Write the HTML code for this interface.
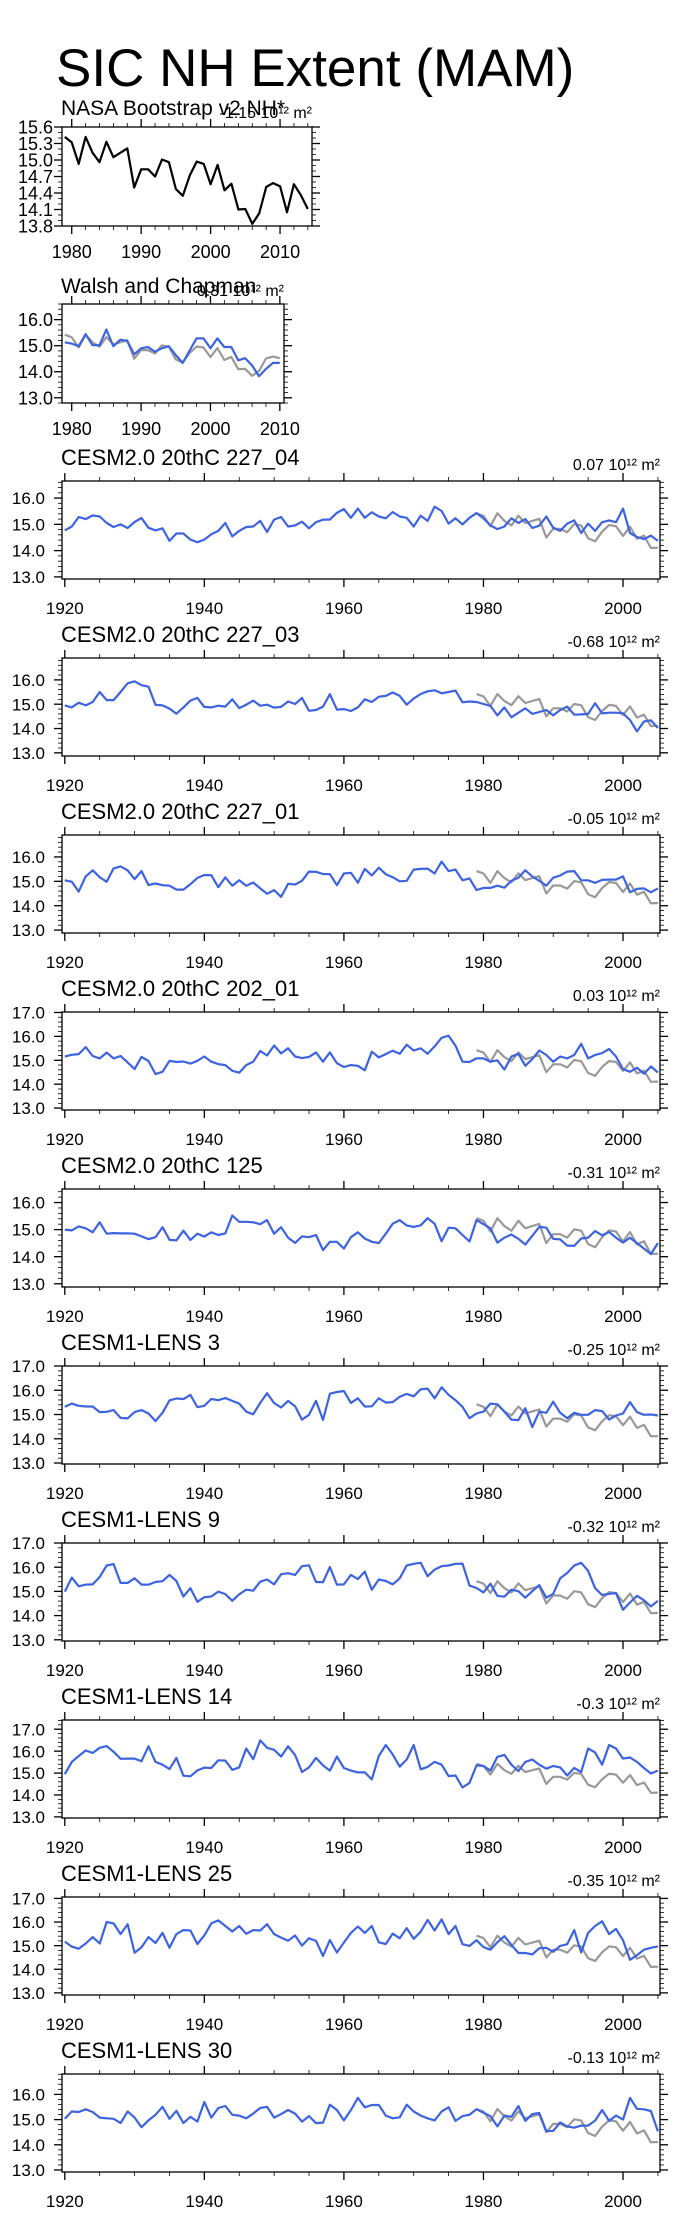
<!DOCTYPE html>
<html><head><meta charset="utf-8"><title>SIC NH Extent (MAM)</title>
<style>
html,body{margin:0;padding:0;background:#fff;}
svg{display:block;font-family:"Liberation Sans",Arial,sans-serif;}
</style></head>
<body>
<svg id="chart" width="680" height="2217" viewBox="0 0 680 2217" xmlns="http://www.w3.org/2000/svg">
<text x="56" y="86" font-size="53" fill="#000">SIC NH Extent (MAM)</text>
</svg>
<script>
// ---- data ----
const nasaYears = [1979,1980,1981,1982,1983,1984,1985,1986,1987,1988,1989,1990,1991,1992,1993,1994,1995,1996,1997,1998,1999,2000,2001,2002,2003,2004,2005,2006,2007,2008,2009,2010,2011,2012,2013,2014];
const nasaValues = [15.42,15.32,14.93,15.42,15.13,14.96,15.33,15.05,15.13,15.21,14.5,14.83,14.83,14.7,15.01,14.96,14.47,14.35,14.72,14.97,14.93,14.56,14.91,14.45,14.57,14.1,14.11,13.84,14.03,14.51,14.58,14.52,14.05,14.56,14.36,14.11];
const walshValues = [15.13,15.08,14.98,15.44,15.02,15.02,15.62,14.98,15.23,15.18,14.67,14.9,14.95,14.77,14.9,14.98,14.64,14.34,14.82,15.28,15.28,14.9,15.28,14.95,14.95,14.44,14.52,14.24,13.83,14.11,14.34,14.34];
const modelStartYear = 1920;
const panelTitles = ["CESM2.0 20thC 227_04","CESM2.0 20thC 227_03","CESM2.0 20thC 227_01","CESM2.0 20thC 202_01","CESM2.0 20thC 125","CESM1-LENS 3","CESM1-LENS 9","CESM1-LENS 14","CESM1-LENS 25","CESM1-LENS 30"];
const panelTrends = ["0.07","-0.68","-0.05","0.03","-0.31","-0.25","-0.32","-0.3","-0.35","-0.13"];
const panelYMin = [12.92,12.87,12.88,12.92,12.88,12.96,12.95,12.95,12.91,12.92];
const panelYMax = [16.65,16.9,16.9,17.02,16.5,17.0,17.0,17.42,17.06,16.81];
const s227_04 = [14.77,14.92,15.28,15.2,15.34,15.3,15.05,14.9,15.0,14.86,15.09,15.24,14.87,14.77,14.85,14.37,14.65,14.65,14.42,14.32,14.42,14.62,14.75,15.05,14.54,14.75,14.9,14.92,15.13,14.71,15.18,15.28,14.92,14.96,15.1,14.85,15.08,15.18,15.18,15.44,15.58,15.25,15.6,15.25,15.46,15.3,15.23,15.47,15.3,15.25,14.92,15.33,15.13,15.67,15.51,15.03,15.23,15.0,15.25,15.43,15.23,14.96,14.82,14.92,15.23,15.05,15.2,14.86,14.95,15.3,14.87,14.75,15.03,15.15,14.67,15.03,14.75,15.08,15.15,15.08,15.6,14.67,14.52,14.44,14.57,14.37];
const s227_03 = [14.95,14.87,15.06,14.95,15.09,15.5,15.17,15.17,15.5,15.86,15.94,15.78,15.72,14.97,14.95,14.82,14.61,14.87,15.15,15.26,14.89,14.87,14.94,14.9,15.2,14.84,14.98,15.15,14.94,14.98,14.86,14.89,15.11,15.01,15.26,14.73,14.76,14.9,15.41,14.78,14.8,14.72,14.87,15.2,15.09,15.31,15.34,15.48,15.34,14.98,15.23,15.42,15.53,15.57,15.45,15.5,15.56,15.08,15.11,15.09,15.01,14.93,14.54,14.87,14.46,14.65,14.83,14.6,14.68,14.76,14.54,14.76,14.9,14.57,14.58,14.6,15.04,14.62,14.65,14.65,14.62,14.35,13.88,14.29,14.34,14.02];
const s227_01 = [15.04,14.98,14.58,15.2,15.45,15.17,14.98,15.53,15.61,15.45,15.09,15.42,14.85,14.91,14.84,14.82,14.66,14.66,14.88,15.14,15.26,15.25,14.76,15.16,14.82,15.04,14.82,14.95,14.71,14.49,14.64,14.36,14.9,14.87,15.02,15.4,15.39,15.3,15.29,14.84,15.32,15.35,14.94,15.51,15.24,15.56,15.29,15.17,15.0,15.02,15.48,15.51,15.52,15.32,15.81,15.42,15.48,15.04,15.12,14.64,14.73,14.73,14.82,14.74,15.02,15.15,15.45,15.2,15.02,14.82,15.15,15.24,15.4,15.42,15.04,15.04,14.94,15.06,15.07,15.07,15.2,14.55,14.69,14.71,14.55,14.71];
const s202_01 = [15.16,15.23,15.26,15.55,15.18,15.08,15.32,15.08,15.18,14.91,14.63,15.14,14.97,14.42,14.52,14.98,14.93,14.95,14.86,14.98,15.16,14.94,14.84,14.8,14.56,14.48,14.8,14.94,15.39,15.2,15.62,15.29,15.5,15.16,15.09,15.14,15.33,14.94,15.33,14.88,14.72,14.8,14.77,14.58,15.36,15.12,15.26,15.4,15.27,15.65,15.41,15.5,15.27,15.58,15.94,16.03,15.61,14.94,14.93,15.08,15.08,14.94,15.0,14.61,15.16,15.27,14.77,15.05,15.41,15.22,14.94,15.16,15.08,15.22,15.69,15.08,15.22,15.3,15.47,15.16,14.63,14.52,14.69,14.44,14.74,14.49];
const s125 = [15.0,14.97,15.12,15.05,14.9,15.27,14.85,14.87,14.86,14.86,14.85,14.75,14.65,14.72,15.09,14.62,14.6,14.96,14.62,14.85,14.74,14.9,14.8,14.86,15.52,15.29,15.29,15.27,15.2,15.35,14.85,15.09,14.7,14.51,14.75,14.72,14.8,14.24,14.55,14.55,14.3,14.72,14.9,14.67,14.55,14.5,14.85,15.22,15.35,15.15,15.1,15.16,15.42,15.22,14.57,15.07,15.05,14.8,14.56,15.35,15.2,15.05,14.52,14.7,14.82,14.66,14.45,14.77,15.1,15.07,14.66,14.64,14.41,14.4,14.67,14.7,14.95,14.79,14.91,14.7,14.52,14.7,14.5,14.3,14.1,14.5];
const lens3 = [15.32,15.45,15.36,15.33,15.33,15.1,15.11,15.18,14.86,14.84,15.1,15.18,15.04,14.73,15.07,15.58,15.66,15.64,15.81,15.3,15.36,15.64,15.59,15.68,15.56,15.45,15.12,15.01,15.48,15.88,15.47,15.29,15.56,15.34,14.79,14.99,15.56,14.78,15.86,15.93,15.97,15.48,15.67,15.33,15.34,15.67,15.49,15.51,15.73,15.85,15.75,16.04,16.07,15.67,16.12,15.81,15.59,15.32,14.85,15.04,15.12,15.45,15.42,15.11,14.79,14.77,15.26,14.48,15.12,15.07,15.53,15.07,14.85,15.07,14.99,14.99,15.18,15.14,14.79,14.96,15.04,15.51,15.1,14.99,15.0,14.96];
const lens9 = [14.99,15.57,15.21,15.28,15.29,15.6,16.07,16.13,15.35,15.35,15.54,15.28,15.28,15.39,15.42,15.68,15.43,14.79,15.13,14.57,14.76,14.79,14.99,14.89,14.61,14.88,15.07,15.03,15.4,15.49,15.29,15.71,15.75,15.68,16.04,16.08,15.39,15.38,16.01,15.28,15.29,15.68,15.51,15.82,15.07,15.49,15.43,15.29,15.54,16.07,16.14,16.18,15.63,15.9,16.04,16.07,16.14,16.15,15.24,15.14,14.96,15.32,14.82,14.78,15.07,15.01,14.74,15.01,15.26,14.74,14.9,15.54,15.76,16.07,16.18,15.85,15.13,14.85,14.9,14.93,14.24,14.54,14.82,14.63,14.38,14.61];
const lens14 = [14.95,15.51,15.78,16.03,15.92,16.15,16.23,15.97,15.65,15.66,15.66,15.54,16.22,15.51,15.38,15.18,15.69,14.88,14.85,15.12,15.25,15.23,15.58,15.57,15.15,15.26,16.12,15.63,16.49,16.15,16.06,15.75,16.22,15.82,15.05,15.26,15.69,15.35,15.11,15.75,15.23,15.11,15.03,15.03,14.71,15.78,16.28,15.85,15.29,15.62,16.28,15.17,15.28,15.51,15.38,14.86,14.89,14.34,14.55,15.35,15.32,15.11,15.74,15.83,15.38,15.09,15.51,15.62,15.38,15.2,15.32,15.26,14.89,15.23,15.05,16.12,15.94,15.38,16.28,16.12,15.66,15.71,15.51,15.23,14.98,15.11];
const lens25 = [15.17,14.96,14.87,15.09,15.36,15.09,16.0,15.94,15.49,15.91,14.7,14.93,15.36,15.11,15.54,14.91,15.49,15.66,15.64,15.07,15.43,15.94,16.07,15.83,15.6,15.83,15.5,15.66,15.64,15.91,15.49,15.34,15.21,15.43,15.0,15.31,15.2,14.56,15.24,14.71,15.13,15.54,15.81,15.54,15.83,15.14,15.07,15.51,15.31,15.74,15.29,15.59,16.09,15.64,16.11,15.49,15.83,15.06,14.99,15.23,14.94,14.83,15.14,15.4,15.03,14.69,14.69,14.63,14.89,14.91,14.74,14.99,15.06,15.66,14.71,15.54,15.83,16.03,15.49,15.71,15.23,14.4,14.6,14.83,14.91,14.97];
const lens30 = [15.03,15.32,15.3,15.41,15.3,15.08,15.05,15.03,14.86,15.32,15.08,14.7,14.97,15.19,15.51,15.03,15.35,14.86,15.11,14.92,15.7,15.08,15.46,15.54,15.19,15.16,15.05,15.24,15.46,15.51,15.08,15.22,15.38,15.24,14.92,15.14,14.86,14.88,15.59,15.38,14.97,15.38,15.86,15.49,15.58,15.58,15.16,15.05,15.09,15.59,15.32,15.16,15.05,14.97,15.32,15.49,14.95,15.14,15.19,15.41,15.27,15.14,14.73,15.16,15.11,15.54,14.95,15.22,15.26,14.54,14.55,14.89,14.73,14.68,14.76,14.76,14.96,15.38,14.95,15.16,15.0,15.86,15.43,15.41,15.34,14.53];
const panelSeries = [s227_04,s227_03,s227_01,s202_01,s125,lens3,lens9,lens14,lens25,lens30];

// ---- drawing ----
const NS = "http://www.w3.org/2000/svg";
const svg = document.getElementById("chart");
function mk(tag, attrs, parent) {
  const e = document.createElementNS(NS, tag);
  for (const k in attrs) e.setAttribute(k, attrs[k]);
  (parent || svg).appendChild(e);
  return e;
}
function fmt(v) { return v.toFixed(1); }

function drawPanel(p) {
  const g = mk("g", {});
  
  
  const xs = v => p.x0 + (v - p.xmin) / (p.xmax - p.xmin) * (p.x1 - p.x0);
  const ys = v => p.y1 - (v - p.ymin) / (p.ymax - p.ymin) * (p.y1 - p.y0);
  const fr = mk("rect", {x:p.x0, y:p.y0, width:p.x1-p.x0, height:p.y1-p.y0, fill:"none", stroke:"#000", "stroke-width":1.3}, g);
  
  
  const xStart = Math.ceil(p.xmin / p.xMinor) * p.xMinor;
  for (let t = xStart; t <= p.xmax + 1e-6; t += p.xMinor) {
    const major = Math.abs(t / p.xMajor - Math.round(t / p.xMajor)) < 1e-6;
    const L = major ? 8 : 4;
    const x = xs(t);
    mk("line", {x1:x, x2:x, y1:p.y1, y2:p.y1+L, stroke:"#000", "stroke-width":major?1.3:0.8}, g);
    mk("line", {x1:x, x2:x, y1:p.y0, y2:p.y0-L, stroke:"#000", "stroke-width":major?1.3:0.8}, g);
    if (major) {
      const tl = mk("text", {x:x, y:p.y1+p.xLabOff, "font-size":p.xFont, "text-anchor":"middle"}, g);
      
      
      tl.textContent = t;
    }
  }
  const yStart = Math.ceil(p.ymin / p.yMinor - 1e-6) * p.yMinor;
  for (let t = yStart; t <= p.ymax + 1e-6; t += p.yMinor) {
    const major = p.yTicks.some(v => Math.abs(v - t) < 1e-6);
    const L = major ? 8 : 4;
    const y = ys(t);
    mk("line", {x1:p.x0, x2:p.x0-L, y1:y, y2:y, stroke:"#000", "stroke-width":major?1.3:0.8}, g);
    mk("line", {x1:p.x1, x2:p.x1+L, y1:y, y2:y, stroke:"#000", "stroke-width":major?1.3:0.8}, g);
  }
  p.yTicks.forEach(v => {
    const tl = mk("text", {x:p.x0-p.yLabGap, y:ys(v)+p.yFont*0.36, "font-size":p.yFont, "text-anchor":"end"}, g);
    
    
    tl.textContent = fmt(v);
  });
  const tt = mk("text", {x:p.x0-1, y:p.y0-p.titleOff, "font-size":p.titleFont}, g);
  
  
  tt.textContent = p.title;
  const tr = mk("text", {x:p.x1, y:p.y0-p.trendOff, "font-size":16, "text-anchor":"end"}, g);
  
  
  tr.textContent = p.trend + " 10¹² m²";
  p.series.forEach(s => {
    const pts = s.values.map((v, i) => xs(s.start + i).toFixed(1) + "," + ys(v).toFixed(1)).join(" ");
    const pl = mk("polyline", {points:pts, fill:"none", stroke:s.color, "stroke-width":2.2, "stroke-linejoin":"round"}, g);
    
    
  });
}

drawPanel({name:"nasa-panel", x0:62, x1:312, y0:127, y1:226, xmin:1978.6, xmax:2014.6, ymin:13.8, ymax:15.6,
  xMajor:10, xMinor:2, yTicks:[13.8,14.1,14.4,14.7,15.0,15.3,15.6], yMinor:0.1,
  xFont:18, yFont:18, xLabOff:32, yLabGap:9, title:"NASA Bootstrap v2 NH*", titleFont:21, titleOff:12,
  trend:"-1.15", trendOff:9,
  series:[{name:"nasa-line", start:nasaYears[0], values:nasaValues, color:"#000"}]});
drawPanel({name:"walsh-panel", x0:62, x1:284, y0:304, y1:403, xmin:1978.6, xmax:2010.6, ymin:12.8, ymax:16.6,
  xMajor:10, xMinor:2, yTicks:[13,14,15,16], yMinor:0.2,
  xFont:18, yFont:18, xLabOff:32, yLabGap:9, title:"Walsh and Chapman", titleFont:21, titleOff:11,
  trend:"0.31", trendOff:8,
  series:[{name:"nasa-obs-line", start:1979, values:nasaValues.slice(0,32), color:"#999"},
          {name:"walsh-line", start:1979, values:walshValues, color:"#3d64e0"}]});

for (let i = 0; i < panelTitles.length; i++) {
  const top = 481 + 177 * i;
  const yt = [];
  for (let v = 13; v <= Math.floor(panelYMax[i] + 1e-6); v++) yt.push(v);
  drawPanel({name:"panel-" + (i+1), x0:62, x1:660, y0:top, y1:top+98, xmin:1919.6, xmax:2005.3,
    ymin:panelYMin[i], ymax:panelYMax[i], xMajor:20, xMinor:5, yTicks:yt, yMinor:0.2,
    xFont:17, yFont:17, xLabOff:35, yLabGap:17, title:panelTitles[i], titleFont:22, titleOff:16,
    trend:panelTrends[i], trendOff:11,
    series:[{name:"nasa-obs-line", start:1979, values:nasaValues.slice(0,27), color:"#999"},
            {name:"model-line", start:modelStartYear, values:panelSeries[i], color:"#3d64e0"}]});
}
</script>
</body></html>
